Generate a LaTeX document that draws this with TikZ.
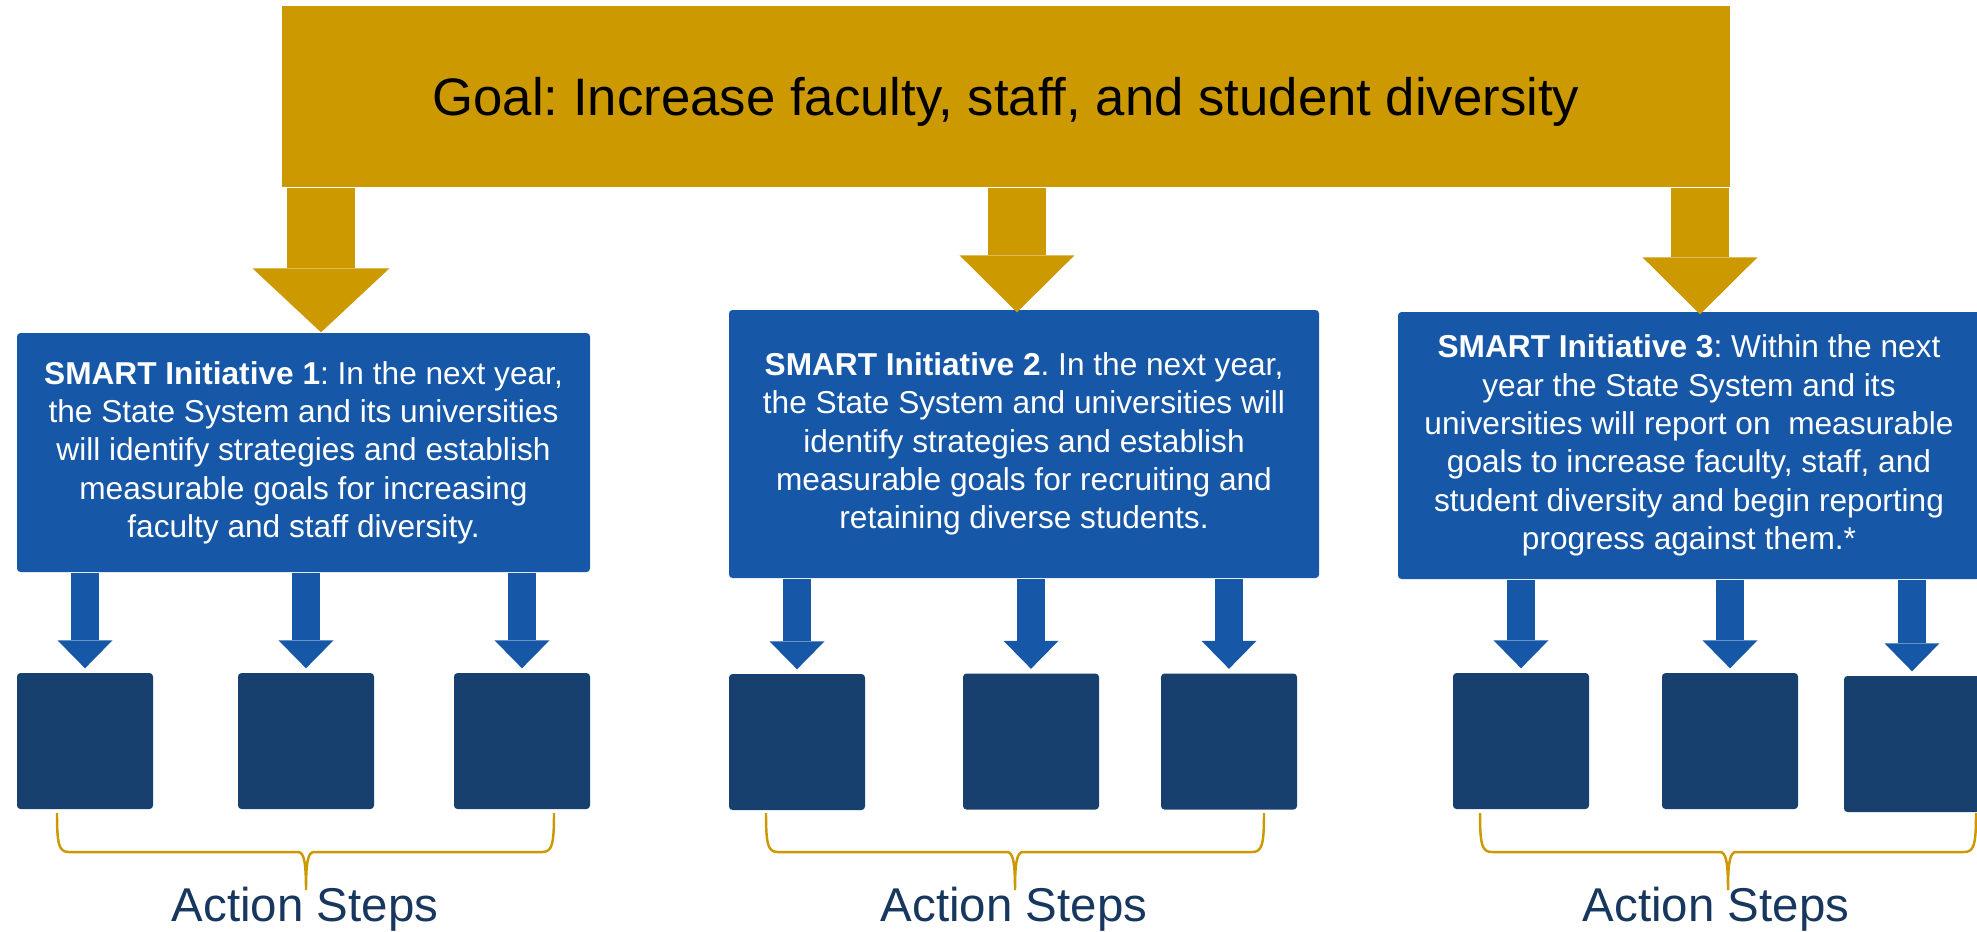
\documentclass[tikz,border=0pt]{standalone}
\usepackage{fontspec}
\setmainfont{Liberation Sans}
\usepackage{tikz}
\usetikzlibrary{arrows.meta,calc,positioning}
\definecolor{goalgold}{HTML}{CC9900}
\definecolor{smartblue}{HTML}{1757A7}
\definecolor{stepnavy}{HTML}{18406E}
\definecolor{labelnavy}{HTML}{17375E}
\frenchspacing

\begin{document}
\begin{tikzpicture}[
    goalbox/.style={fill=goalgold, minimum width=14.48cm, minimum height=1.81cm, inner sep=0pt, text height=10.7pt, text depth=0pt, font=\fontsize{15}{18}\selectfont},
    smartbox/.style={fill=smartblue, rounded corners=1pt, text=white, align=center, inner sep=0pt, font=\fontsize{9}{10.9}\selectfont},
    stepbox/.style={fill=stepnavy, rounded corners=1pt, minimum width=1.36cm, minimum height=1.36cm, inner sep=0pt},
    goldarrow/.style n args={3}{goalgold, line width=#1, -{Triangle[width=#2, length=#3, line width=0pt]}},
    bluearrow/.style={smartblue, line width=0.28cm, -{Triangle[width=0.55cm, length=0.28cm, line width=0pt]}, shorten >=0.04cm},
    bracegold/.style={goalgold, line width=0.7pt},
    steplabel/.style={text=labelnavy, font=\fontsize{13.5}{16}\selectfont, anchor=base}
  ]
    \useasboundingbox (0,0) rectangle (19.77,-9.31);

    % goal and initiatives
    \node[goalbox] (goal) at (10.06,-0.965) {Goal: Increase faculty, staff, and student diversity};
    \node[smartbox, minimum width=5.73cm, minimum height=2.39cm] (init1) at (3.035,-4.525)
      {\textbf{SMART Initiative 1}: In the next year,\\the State System and its universities\\will identify strategies and establish\\measurable goals for increasing\\faculty and staff diversity.};
    \node[smartbox, minimum width=5.90cm, minimum height=2.68cm] (init2) at (10.24,-4.44)
      {\textbf{SMART Initiative 2}. In the next year,\\the State System and universities will\\identify strategies and establish\\measurable goals for recruiting and\\retaining diverse students.};
    \node[smartbox, minimum width=5.82cm, minimum height=2.67cm] (init3) at (16.89,-4.455)
      {\textbf{SMART Initiative 3}: Within the next\\year the State System and its\\universities will report on~ measurable\\goals to increase faculty, staff, and\\student diversity and begin reporting\\progress against them.*};

    % action step boxes
    \node[stepbox] (s11) at (0.85,-7.41) {};
    \node[stepbox] (s12) at (3.06,-7.41) {};
    \node[stepbox] (s13) at (5.22,-7.41) {};
    \node[stepbox] (s21) at (7.97,-7.42) {};
    \node[stepbox] (s22) at (10.31,-7.415) {};
    \node[stepbox] (s23) at (12.29,-7.415) {};
    \node[stepbox] (s31) at (15.21,-7.41) {};
    \node[stepbox] (s32) at (17.30,-7.41) {};
    \node[stepbox] (s33) at (19.12,-7.44) {};

    % goal arrows
    \coordinate (g1) at (3.21,0);
    \coordinate (g2) at (10.17,0);
    \coordinate (g3) at (17.00,0);
    \draw[goldarrow={0.68cm}{1.37cm}{0.64cm}] (goal.south -| g1) -- (init1.north -| g1);
    \draw[goldarrow={0.58cm}{1.15cm}{0.57cm}] (goal.south -| g2) -- ($(init2.north -| g2)+(0,-0.03)$);
    \draw[goldarrow={0.58cm}{1.15cm}{0.57cm}] (goal.south -| g3) -- ($(init3.north -| g3)+(0,-0.03)$);

    % initiative arrows
    \foreach \b/\s in {init1/s11, init1/s12, init1/s13, init2/s21, init2/s22, init2/s23, init3/s31, init3/s32, init3/s33}
      \draw[bluearrow] (\b.south -| \s) -- (\s.north);

    % braces
    \foreach \xl/\xm/\xr/\xt [count=\i] in {0.57/3.06/5.54/3.05, 7.66/10.15/12.64/10.14, 14.80/17.28/19.76/17.16} {
      \draw[bracegold] (\xl,-8.13) .. controls (\xl,-8.45) and (\xl+0.02,-8.52) .. (\xl+0.12,-8.52)
        -- (\xm-0.08,-8.52) .. controls (\xm-0.02,-8.52) and (\xm,-8.62) .. (\xm,-8.90)
        .. controls (\xm,-8.62) and (\xm+0.02,-8.52) .. (\xm+0.08,-8.52)
        -- (\xr-0.12,-8.52) .. controls (\xr-0.02,-8.52) and (\xr,-8.45) .. (\xr,-8.13);
      \node[steplabel] (steps\i) at (\xt,-9.21) {Action Steps};
    }
\end{tikzpicture}
\end{document}
